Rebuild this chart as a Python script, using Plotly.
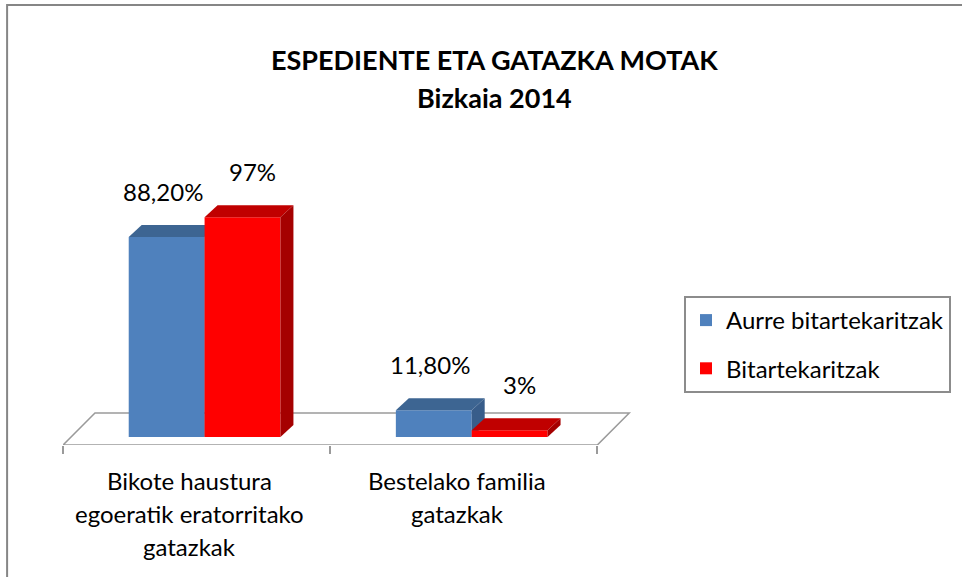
import plotly.graph_objects as go

# ---------------- data ----------------
category_lines = [["Bikote haustura", "egoeratik eratorritako", "gatazkak"],
                  ["Bestelako familia", "gatazkak"]]
series_names = ["Aurre bitartekaritzak", "Bitartekaritzak"]
aurre_values = [88.2, 11.8]
bitart_values = [97, 3]
aurre_labels = ["88,20%", "11,80%"]
bitart_labels = ["97%", "3%"]
title_lines = ["ESPEDIENTE ETA GATAZKA MOTAK", "Bizkaia 2014"]

# ---------------- layout constants ----------------
W, H = 962, 577
PLOT_L, PLOT_R, PLOT_T, PLOT_B = 63, 633, 199, 445   # plot area in window px
ML = PLOT_L
MT = PLOT_T
MR = W - PLOT_R
MB = H - PLOT_B
X_RANGE = [-0.53, 1.60]
Y_RANGE = [-3.5, 105]
PW, PH = W - ML - MR, H - MT - MB
PX_X = PW / (X_RANGE[1] - X_RANGE[0])
PX_Y = PH / (Y_RANGE[1] - Y_RANGE[0])
BAR_W = 0.284
DDX, DDY = 13 / PX_X, 12 / PX_Y          # bar depth
FRONT = 8                                # floor front offset (px)
BACK = 24                                # floor back offset (px)
FONT = "Lato"
TXT = 24


def paper_x(px):
    return (px - PLOT_L) / PW


def paper_y(py):
    return (PLOT_B - py) / PH


BLUE = dict(front="#4F81BD", top="#3D6592", side="#385D8A")
RED = dict(front="#FF0000", top="#C00000", side="#A50000")

xs = list(range(len(aurre_values)))
fig = go.Figure()


def add_series(values, name, colors, offset, xa, ya):
    fig.add_trace(go.Bar(x=xs, y=values, name=name, width=BAR_W, offset=offset,
                         marker=dict(color=colors["front"], line=dict(width=0)),
                         legendgroup=name, xaxis=xa, yaxis=ya))
    for x, v in zip(xs, values):
        x0 = x + offset
        x1 = x0 + BAR_W
        fig.add_trace(go.Scatter(
            x=[x0, x1, x1 + DDX, x0 + DDX, x0], y=[v, v, v + DDY, v + DDY, v],
            fill="toself", fillcolor=colors["top"], mode="lines",
            line=dict(width=0, color=colors["top"]), showlegend=False,
            legendgroup=name, hoverinfo="skip", xaxis=xa, yaxis=ya))
        fig.add_trace(go.Scatter(
            x=[x1, x1 + DDX, x1 + DDX, x1, x1], y=[0, DDY, v + DDY, v, 0],
            fill="toself", fillcolor=colors["side"], mode="lines",
            line=dict(width=0, color=colors["side"]), showlegend=False,
            legendgroup=name, hoverinfo="skip", xaxis=xa, yaxis=ya))


add_series(aurre_values, series_names[0], BLUE, -BAR_W, "x", "y")
add_series(bitart_values, series_names[1], RED, 0.0, "x2", "y2")

# value labels
for vals, labs, off, xsh in [(aurre_values, aurre_labels, -BAR_W / 2, -4),
                             (bitart_values, bitart_labels, BAR_W / 2, 10)]:
    for x, v, t in zip(xs, vals, labs):
        fig.add_annotation(x=x + off, y=v, text=t, showarrow=False, xref="x", yref="y",
                           yshift=46, xshift=xsh, xanchor="center", yanchor="middle",
                           font=dict(family=FONT, size=TXT, color="#000000"))

# category labels (one annotation per line)
LINE_GAP = 33
for i, lines in enumerate(category_lines):
    for j, line in enumerate(lines):
        py = 480 + j * LINE_GAP
        fig.add_annotation(x=i - 0.055, y=paper_y(py), xref="x", yref="paper",
                           text=line, showarrow=False, xanchor="center", yanchor="middle",
                           font=dict(family=FONT, size=TXT, color="#000000"))

# title
for j, line in enumerate(title_lines):
    py = 59 + j * 39
    fig.add_annotation(x=paper_x(495), y=paper_y(py), xref="paper", yref="paper",
                       text="<b>" + line + "</b>", showarrow=False,
                       xanchor="center", yanchor="middle",
                       font=dict(family=FONT, size=27, color="#000000"))

# floor
fx, fy = FRONT / PX_X, FRONT / PX_Y
bx, by = BACK / PX_X, BACK / PX_Y
lo, hi = -0.5, len(xs) - 0.5
floor_path = (f"M {lo - fx} {-fy} L {hi - fx} {-fy} L {hi + bx} {by} "
              f"L {lo + bx} {by} Z")
fig.add_shape(type="path", path=floor_path, xref="x", yref="y", layer="below",
              line=dict(color="#9A9A9A", width=1.5), fillcolor="white")

# chart border
fig.add_shape(type="rect", xref="paper", yref="paper",
              x0=paper_x(7), x1=paper_x(W + 30), y0=paper_y(H + 30), y1=paper_y(5),
              line=dict(color="#868686", width=2), layer="below")

tick_vals = [lo - fx + k for k in range(len(xs) + 1)]
fig.update_layout(
    width=W, height=H,
    margin=dict(l=ML, r=MR, t=MT, b=MB, pad=0),
    paper_bgcolor="white", plot_bgcolor="rgba(0,0,0,0)",
    barmode="overlay", showlegend=True,
    xaxis=dict(range=X_RANGE, showgrid=False, zeroline=False, showline=False,
               tickvals=tick_vals, ticks="outside", ticklen=8, tickwidth=1.5,
               tickcolor="#9A9A9A", showticklabels=False, fixedrange=True),
    yaxis=dict(range=Y_RANGE, visible=False, fixedrange=True),
    xaxis2=dict(range=X_RANGE, overlaying="x", visible=False, fixedrange=True),
    yaxis2=dict(range=Y_RANGE, overlaying="y", visible=False, fixedrange=True),
    legend=dict(x=paper_x(684), y=paper_y(296), xanchor="left", yanchor="top",
                bordercolor="#8C8C8C", borderwidth=2, bgcolor="white",
                font=dict(family=FONT, size=TXT, color="#000000"),
                tracegroupgap=14, traceorder="grouped", itemwidth=30),
    hovermode=False,
)

fig.write_html("out.html", config={"displayModeBar": False},
               post_script="document.body.style.margin='0';document.body.style.overflow='hidden';")
